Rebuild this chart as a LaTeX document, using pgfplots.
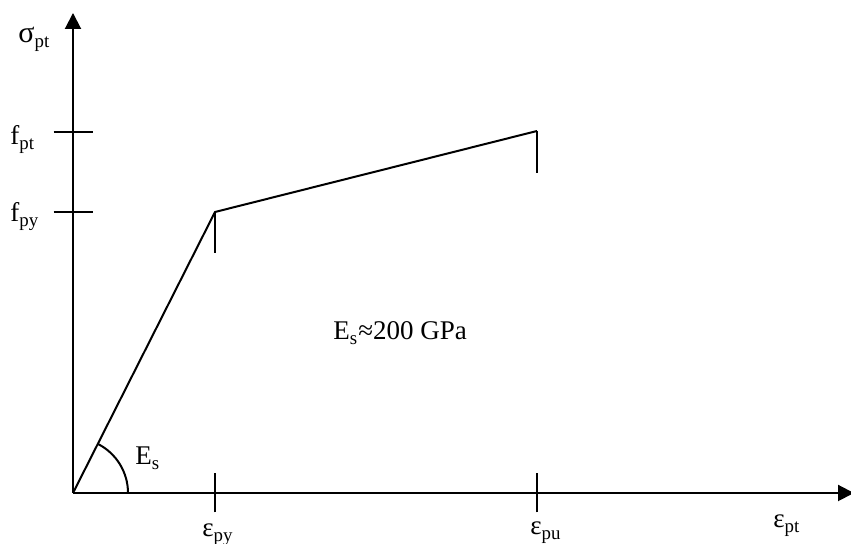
\documentclass[border=0pt]{standalone}
\usepackage{fontspec}
\setmainfont{Liberation Serif}
\usepackage{pgfplots}
\pgfplotsset{compat=1.18}
\usetikzlibrary{arrows.meta}
\begin{document}
\fontsize{13.5}{16}\selectfont
\begin{tikzpicture}
\begin{axis}[
  x=0.5pt, y=0.5pt,
  xmin=0, xmax=781, ymin=0, ymax=480,
  axis lines=left,
  axis line style={line width=1pt, -{Triangle[length=8pt,width=8pt]}},
  xtick={142,464}, ytick={281,361},
  xticklabels={}, yticklabels={},
  tick align=center,
  major tick length=19.5pt,
  tick style={line width=1pt, black},
  clip=false,
]
\addplot[black, line width=1pt] coordinates {(0,0) (142,281) (464,362)};
\addplot[black, line width=1pt] coordinates {(142,281) (142,240)};
\addplot[black, line width=1pt] coordinates {(464,362) (464,320)};
\draw[black, line width=1pt] (axis cs:55,0) arc[start angle=0, end angle=63.2, radius=27.5pt];
\node[anchor=base west, inner sep=0pt] at (axis cs:-55,450) {\fontsize{15}{16}\selectfont σ\fontsize{13.5}{16}\selectfont\textsubscript{pt}};
\node[anchor=base west, inner sep=0pt] at (axis cs:-63,348) {f\textsubscript{pt}};
\node[anchor=base west, inner sep=0pt] at (axis cs:-63,271) {f\textsubscript{py}};
\node[anchor=base west, inner sep=0pt] at (axis cs:129,-44) {ε\textsubscript{py}};
\node[anchor=base west, inner sep=0pt] at (axis cs:457,-42) {ε\textsubscript{pu}};
\node[anchor=base west, inner sep=0pt] at (axis cs:700,-35) {ε\textsubscript{pt}};
\node[anchor=base west, inner sep=0pt] at (axis cs:62,28) {E\textsubscript{s}};
\node[anchor=base west, inner sep=0pt] at (axis cs:260,153) {E\textsubscript{s}≈200 GPa};
\coordinate (bl) at (axis cs:-73,-51);
\coordinate (tr) at (axis cs:778,493);
\end{axis}
\pgfresetboundingbox
\path (bl) rectangle (tr);
\end{tikzpicture}
\end{document}
